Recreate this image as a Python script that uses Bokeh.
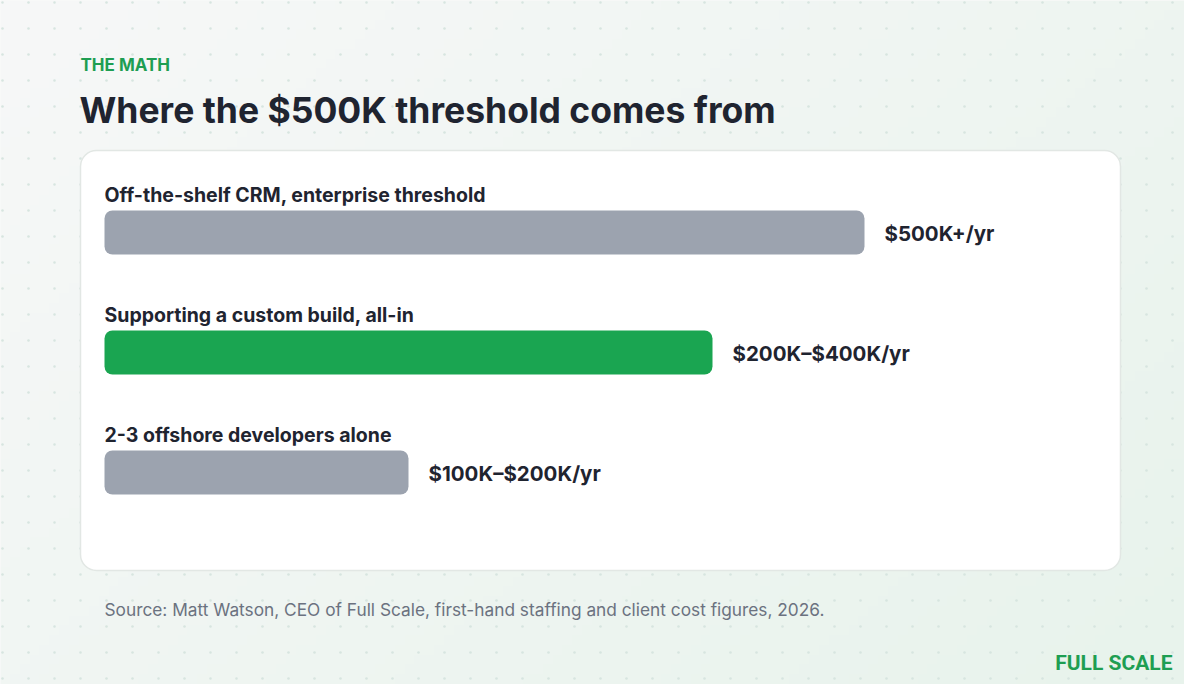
import numpy as np
from bokeh.plotting import figure
from bokeh.models import Range1d
from bokeh.core.properties import value
from bokeh.embed import file_html
from bokeh.resources import INLINE

# ---- data ----
categories = [
    "Off-the-shelf CRM, enterprise threshold",
    "Supporting a custom build, all-in",
    "2-3 offshore developers alone",
]
values_k = [500, 400, 200]
value_labels = ["$500K+/yr", "$200K\u2013$400K/yr", "$100K\u2013$200K/yr"]
highlight = [False, True, False]

eyebrow = "THE MATH"
title = "Where the $500K threshold comes from"
source = "Source: Matt Watson, CEO of Full Scale, first-hand staffing and client cost figures, 2026."
brand = "FULL SCALE"

# ---- layout helpers (page pixels) ----
W, H = 1184, 684
ORIGIN_PX = 104.0        # page x where value 0 sits
PX_PER_K = 1.52          # bar scale


def px(xp):
    """page x pixel -> data x (K$)"""
    return (xp - ORIGIN_PX) / PX_PER_K


p = figure(width=W, height=H, output_backend="svg", toolbar_location=None,
           x_range=Range1d(px(0), px(W)), y_range=Range1d(H, 0),
           min_border=0, border_fill_color="#f3f6f4", background_fill_color="#f3f6f4",
           outline_line_color=None)
p.axis.visible = False
p.xgrid.visible = False
p.ygrid.visible = False

# background gradient
ny, nx = 70, 120
yy, xx = np.mgrid[0:ny, 0:nx]
t = (xx / (nx - 1) * 0.6 + yy / (ny - 1) * 0.4)
c0 = np.array([247, 248, 248])
c1 = np.array([232, 243, 236])
img = np.empty((ny, nx), dtype=np.uint32)
view = img.view(dtype=np.uint8).reshape((ny, nx, 4))
for k in range(3):
    view[:, :, k] = (c0[k] + (c1[k] - c0[k]) * t).astype(np.uint8)
view[:, :, 3] = 255
p.image_rgba(image=[img], x=px(0), y=0, dw=W / PX_PER_K, dh=H)

# dot pattern
gx = np.arange(2, 1200, 26)
gy = np.arange(2, 700, 26)
DX, DY = np.meshgrid(gx, gy)
p.scatter(x=px(DX.ravel()), y=DY.ravel(), size=2.6, color="#d7e5e0", line_color=None)

# card
p.quad(left=[px(80)], right=[px(1120)], top=[150], bottom=[570],
       fill_color="white", line_color="#e2e7e4", line_width=1.5, border_radius=16)

# bars
bar_y = [232, 352, 472]
colors = ["#1aa551" if h else "#9ca3af" for h in highlight]
p.hbar(y=bar_y, left=0, right=values_k, height=44, fill_color=colors,
       line_color=None, border_radius=8)

FONT = value("Inter")
p.text(x=[0] * 3, y=[b - 38 for b in bar_y], text=categories, text_font=FONT,
       text_font_style="bold", text_font_size=value("19.5px"), text_color="#1f2430",
       text_baseline="alphabetic")
p.text(x=[v + 20 / PX_PER_K for v in values_k], y=[b + 1 for b in bar_y], text=value_labels,
       text_font=FONT, text_font_style="bold", text_font_size=value("20.5px"),
       text_color="#1f2430", text_baseline="middle")

# titles
p.text(x=[px(80)], y=[64], text=[eyebrow], text_font=FONT, text_font_style="bold",
       text_font_size=value("17px"), text_color="#1e9e52", text_baseline="alphabetic")
p.text(x=[px(79)], y=[110], text=[title], text_font=FONT, text_font_style="bold",
       text_font_size=value("35.5px"), text_color="#1f2430", text_baseline="alphabetic")
p.text(x=[0], y=[609], text=[source], text_font=FONT,
       text_font_size=value("17.3px"), text_color="#6b7280", text_baseline="alphabetic")
p.text(x=[px(1172)], y=[662], text=[brand], text_font=value("Roboto"),
       text_font_style="bold", text_font_size=value("21px"), text_color="#1e9e52",
       text_baseline="middle", text_align="right")

open("out.html", "w").write(file_html(p, INLINE))
